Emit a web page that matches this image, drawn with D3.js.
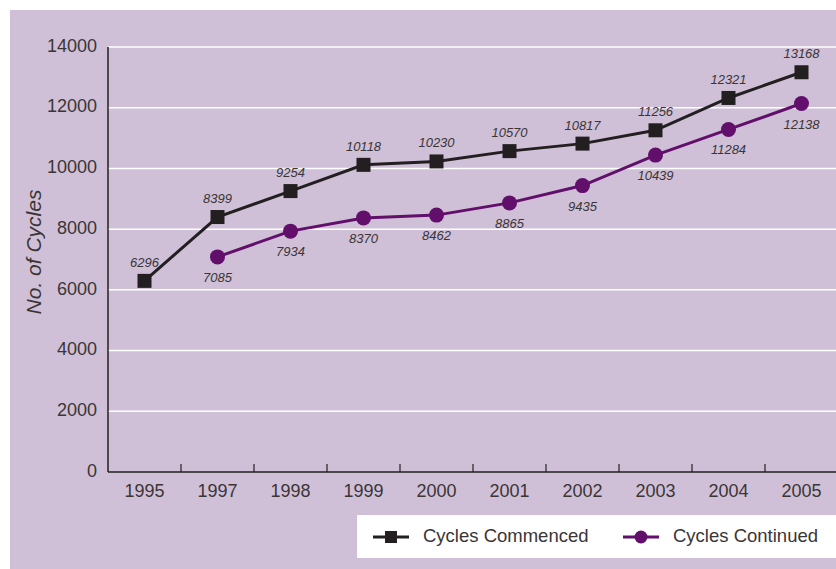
<!DOCTYPE html>
<html>
<head>
<meta charset="utf-8">
<script src="https://cdn.jsdelivr.net/npm/d3@7"></script>
<style>
  body { margin: 0; background: #fff; }
  text { font-family: "Liberation Sans", Arial, sans-serif; }
</style>
</head>
<body>
<svg id="chart" width="836" height="569"></svg>
<script>
// chart data
var years = ["1995","1997","1998","1999","2000","2001","2002","2003","2004","2005"];
var commenced = [6296, 8399, 9254, 10118, 10230, 10570, 10817, 11256, 12321, 13168];
var continued = [null, 7085, 7934, 8370, 8462, 8865, 9435, 10439, 11284, 12138];
var yTicks = [0, 2000, 4000, 6000, 8000, 10000, 12000, 14000];

var ctx = {
  w: 836, h: 569,
  left: 108, right: 838, top: 47, bottom: 472,
  bg: "#cfc0d8", dark: "#231f20", purple: "#620f6b", txt: "#3b3536"
};

var svg = d3.select("#chart");

svg.append("rect")
  .attr("x", 10).attr("y", 10)
  .attr("width", ctx.w - 10).attr("height", ctx.h - 10)
  .attr("fill", ctx.bg);

var x = d3.scaleBand().domain(years).range([ctx.left, ctx.right]);
var y = d3.scaleLinear().domain([0, 14000]).range([ctx.bottom, ctx.top]);

// gridlines
svg.append("g").selectAll("line")
  .data(yTicks.filter(d => d > 0))
  .enter().append("line")
  .attr("x1", ctx.left).attr("x2", ctx.w)
  .attr("y1", d => y(d)).attr("y2", d => y(d))
  .attr("stroke", "#fff").attr("stroke-width", 1.5);

// y tick labels
svg.append("g").selectAll("text")
  .data(yTicks)
  .enter().append("text")
  .attr("x", 97).attr("y", d => y(d))
  .attr("text-anchor", "end")
  .attr("dominant-baseline", "middle")
  .attr("font-size", 18)
  .attr("fill", ctx.txt)
  .text(d => d);

// axes lines
svg.append("line")
  .attr("x1", ctx.left).attr("x2", ctx.left)
  .attr("y1", ctx.top).attr("y2", ctx.bottom)
  .attr("stroke", ctx.dark).attr("stroke-width", 1.5);
svg.append("line")
  .attr("x1", ctx.left).attr("x2", ctx.w)
  .attr("y1", ctx.bottom).attr("y2", ctx.bottom)
  .attr("stroke", ctx.dark).attr("stroke-width", 1.5);

// x ticks between bands (pointing up)
svg.append("g").selectAll("line")
  .data(years.slice(1))
  .enter().append("line")
  .attr("x1", d => x(d)).attr("x2", d => x(d))
  .attr("y1", ctx.bottom).attr("y2", ctx.bottom - 8)
  .attr("stroke", ctx.dark).attr("stroke-width", 1.2);

// x labels
svg.append("g").selectAll("text")
  .data(years)
  .enter().append("text")
  .attr("x", d => x(d) + x.bandwidth() / 2)
  .attr("y", 497)
  .attr("text-anchor", "middle")
  .attr("font-size", 18)
  .attr("fill", ctx.txt)
  .text(d => d);

// y title
svg.append("text")
  .attr("transform", "translate(41,252) rotate(-90)")
  .attr("text-anchor", "middle")
  .attr("font-size", 21)
  .attr("font-style", "italic")
  .attr("fill", ctx.txt)
  .text("No. of Cycles");

var cx = (d, i) => x(years[i]) + x.bandwidth() / 2;

var line = d3.line()
  .defined(d => d != null)
  .x((d, i) => cx(d, i))
  .y(d => y(d));

// continued series
svg.append("path")
  .datum(continued)
  .attr("d", line)
  .attr("fill", "none")
  .attr("stroke", ctx.purple).attr("stroke-width", 3);

svg.append("g").selectAll("circle")
  .data(continued.map((v, i) => ({v: v, i: i})).filter(d => d.v != null))
  .enter().append("circle")
  .attr("cx", d => cx(d.v, d.i)).attr("cy", d => y(d.v))
  .attr("r", 7.5)
  .attr("fill", ctx.purple);

svg.append("g").selectAll("text")
  .data(continued.map((v, i) => ({v: v, i: i})).filter(d => d.v != null))
  .enter().append("text")
  .attr("x", d => cx(d.v, d.i)).attr("y", d => y(d.v) + 25)
  .attr("text-anchor", "middle")
  .attr("font-size", 13)
  .attr("font-style", "italic")
  .attr("fill", ctx.txt)
  .text(d => d.v);

// commenced series
svg.append("path")
  .datum(commenced)
  .attr("d", line)
  .attr("fill", "none")
  .attr("stroke", ctx.dark).attr("stroke-width", 3);

svg.append("g").selectAll("rect")
  .data(commenced)
  .enter().append("rect")
  .attr("x", (d, i) => cx(d, i) - 7).attr("y", d => y(d) - 7)
  .attr("width", 14).attr("height", 14)
  .attr("fill", ctx.dark);

svg.append("g").selectAll("text")
  .data(commenced)
  .enter().append("text")
  .attr("x", (d, i) => cx(d, i)).attr("y", d => y(d) - 14)
  .attr("text-anchor", "middle")
  .attr("font-size", 13)
  .attr("font-style", "italic")
  .attr("fill", ctx.txt)
  .text(d => d);

// legend
var legend = svg.append("g");
legend.append("rect")
  .attr("x", 357).attr("y", 515)
  .attr("width", ctx.w - 357).attr("height", 43)
  .attr("fill", "#fff");

var legendItems = [
  {name: "Cycles Commenced", color: ctx.dark, shape: "square", x: 373},
  {name: "Cycles Continued", color: ctx.purple, shape: "circle", x: 623}
];
legendItems.forEach(function(item) {
  legend.append("line")
    .attr("x1", item.x).attr("x2", item.x + 36)
    .attr("y1", 537).attr("y2", 537)
    .attr("stroke", item.color).attr("stroke-width", 3);
  if (item.shape == "square") {
    legend.append("rect")
      .attr("x", item.x + 18 - 6).attr("y", 531)
      .attr("width", 12).attr("height", 12)
      .attr("fill", item.color);
  } else {
    legend.append("circle")
      .attr("cx", item.x + 18).attr("cy", 537).attr("r", 6.5)
      .attr("fill", item.color);
  }
  legend.append("text")
    .attr("x", item.x + 50).attr("y", 537)
    .attr("dominant-baseline", "middle")
    .attr("font-size", 18.5)
    .attr("fill", ctx.txt)
    .text(item.name);
});
</script>
</body>
</html>
